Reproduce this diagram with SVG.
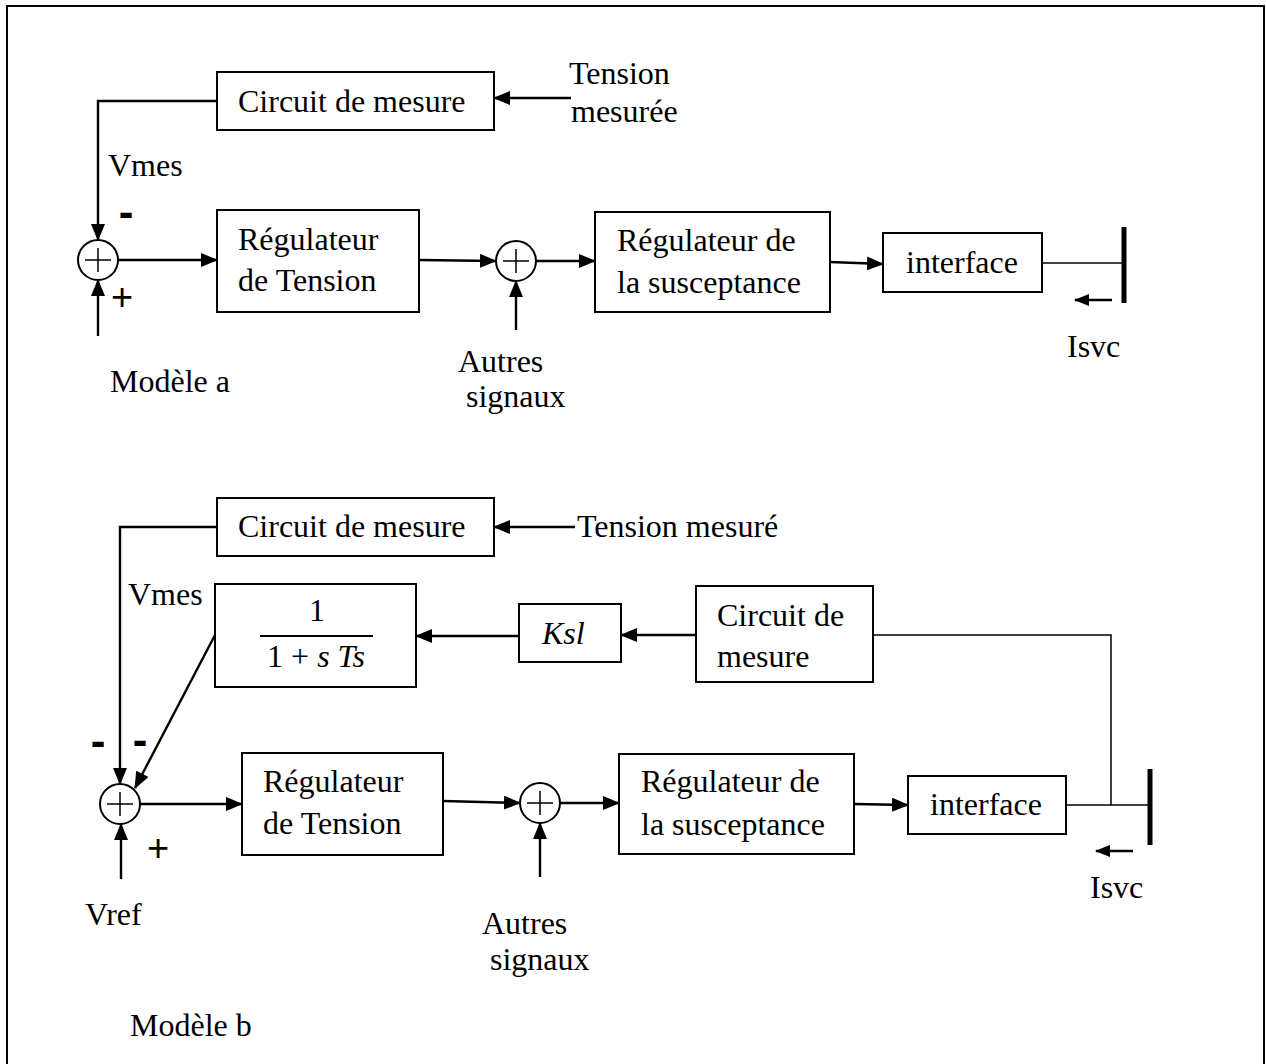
<svg xmlns="http://www.w3.org/2000/svg" width="1266" height="1064" viewBox="0 0 1266 1064">
  <defs>
    <marker id="arrow" markerWidth="17" markerHeight="14" refX="16" refY="7" orient="auto" markerUnits="userSpaceOnUse">
      <path d="M0,0 L17,7 L0,14 z" fill="#000"/>
    </marker>
    <marker id="arrowSmall" markerWidth="15" markerHeight="12" refX="14" refY="6" orient="auto" markerUnits="userSpaceOnUse">
      <path d="M0,0 L15,6 L0,12 z" fill="#000"/>
    </marker>
  </defs>
  <style>
    .box { fill: #fff; stroke: #000; stroke-width: 2; }
    .sum { fill: #fff; stroke: #000; stroke-width: 2; }
    .cross { stroke: #000; stroke-width: 1.5; fill: none; }
    .wire { stroke: #000; stroke-width: 2.4; fill: none; }
    .thin { stroke: #000; stroke-width: 1.5; fill: none; }
    .bus { stroke: #000; stroke-width: 5; fill: none; }
    .lbl { font-family: "Liberation Serif", "Times New Roman", serif; font-size: 32px; fill: #000; }
    .it { font-style: italic; }
    .minus { font-family: "Liberation Sans", Arial, sans-serif; font-size: 44px; font-weight: bold; fill: #000; }
    .plus { font-family: "Liberation Sans", Arial, sans-serif; font-size: 38px; fill: #000; }
  </style>
  <rect width="1266" height="1064" fill="#fff"/>
  <!-- frame -->
  <path d="M7,1072 V6 H1264 V1072" fill="none" stroke="#000" stroke-width="2"/>

  <!-- ===== Model a ===== -->
  <g id="a-mesure">
    <rect class="box" x="217" y="72" width="277" height="58"/>
    <text class="lbl" x="238" y="112">Circuit de mesure</text>
  </g>
  <g id="a-sum1">
    <circle class="sum" cx="98" cy="260" r="20"/>
    <path class="cross" d="M85,260 H111 M98,248 V272"/>
  </g>
  <g id="a-regtension">
    <rect class="box" x="217" y="210" width="202" height="102"/>
    <text class="lbl" x="238" y="250">Régulateur</text>
    <text class="lbl" x="238" y="291">de Tension</text>
  </g>
  <g id="a-sum2">
    <circle class="sum" cx="516" cy="261" r="20"/>
    <path class="cross" d="M503,261 H529 M516,249 V273"/>
  </g>
  <g id="a-regsusc">
    <rect class="box" x="595" y="212" width="235" height="100"/>
    <text class="lbl" x="617" y="251">Régulateur de</text>
    <text class="lbl" x="617" y="293">la susceptance</text>
  </g>
  <g id="a-interface">
    <rect class="box" x="883" y="233" width="159" height="59"/>
    <text class="lbl" x="906" y="273">interface</text>
  </g>
  <g id="a-bus">
    <line class="bus" x1="1124" y1="227" x2="1124" y2="303"/>
  </g>
  <g id="a-labels">
    <text class="lbl" x="569" y="84">Tension</text>
    <text class="lbl" x="571" y="122">mesurée</text>
    <text class="lbl" x="108" y="176">Vmes</text>
    <text class="minus" x="126" y="227" text-anchor="middle">-</text>
    <text class="plus" x="122" y="310" text-anchor="middle">+</text>
    <text class="lbl" x="458" y="372">Autres</text>
    <text class="lbl" x="466" y="407">signaux</text>
    <text class="lbl" x="1067" y="357">Isvc</text>
    <text class="lbl" x="110" y="392">Modèle a</text>
  </g>

  <!-- ===== Model b ===== -->
  <g id="b-mesure">
    <rect class="box" x="217" y="498" width="277" height="58"/>
    <text class="lbl" x="238" y="537">Circuit de mesure</text>
  </g>
  <g id="b-filtre">
    <rect class="box" x="215" y="584" width="201" height="103"/>
    <text class="lbl" x="317" y="621" text-anchor="middle">1</text>
    <line x1="260" y1="636" x2="373" y2="636" stroke="#000" stroke-width="2"/>
    <text class="lbl" x="316" y="667" text-anchor="middle">1 + <tspan class="it">s</tspan> <tspan class="it">Ts</tspan></text>
  </g>
  <g id="b-ksl">
    <rect class="box" x="519" y="604" width="102" height="58"/>
    <text class="lbl it" x="542" y="644">Ksl</text>
  </g>
  <g id="b-mesure2">
    <rect class="box" x="696" y="586" width="177" height="96"/>
    <text class="lbl" x="717" y="626">Circuit de</text>
    <text class="lbl" x="717" y="667">mesure</text>
  </g>
  <g id="b-sum1">
    <circle class="sum" cx="120" cy="804" r="20"/>
    <path class="cross" d="M107,804 H133 M120,792 V816"/>
  </g>
  <g id="b-regtension">
    <rect class="box" x="242" y="753" width="201" height="102"/>
    <text class="lbl" x="263" y="792">Régulateur</text>
    <text class="lbl" x="263" y="834">de Tension</text>
  </g>
  <g id="b-sum2">
    <circle class="sum" cx="540" cy="803" r="20"/>
    <path class="cross" d="M527,803 H553 M540,791 V815"/>
  </g>
  <g id="b-regsusc">
    <rect class="box" x="619" y="754" width="235" height="100"/>
    <text class="lbl" x="641" y="792">Régulateur de</text>
    <text class="lbl" x="641" y="835">la susceptance</text>
  </g>
  <g id="b-interface">
    <rect class="box" x="908" y="776" width="158" height="58"/>
    <text class="lbl" x="930" y="815">interface</text>
  </g>
  <g id="b-bus">
    <line class="bus" x1="1150" y1="769" x2="1150" y2="845"/>
  </g>
  <g id="b-labels">
    <text class="lbl" x="577" y="537">Tension mesuré</text>
    <text class="lbl" x="128" y="605">Vmes</text>
    <text class="minus" x="98" y="756" text-anchor="middle">-</text>
    <text class="minus" x="140" y="755" text-anchor="middle">-</text>
    <text class="plus" x="158" y="861" text-anchor="middle">+</text>
    <text class="lbl" x="85" y="925">Vref</text>
    <text class="lbl" x="482" y="934">Autres</text>
    <text class="lbl" x="490" y="970">signaux</text>
    <text class="lbl" x="1090" y="898">Isvc</text>
    <text class="lbl" x="130" y="1036">Modèle b</text>
  </g>

  <!-- ===== connectors ===== -->
  <g id="connectors">
    <!-- model a -->
    <path class="wire" d="M217,101 H98 V240" marker-end="url(#arrow)"/>
    <path class="wire" d="M571,98 H494" marker-end="url(#arrow)"/>
    <path class="wire" d="M98,336 V280" marker-end="url(#arrow)"/>
    <path class="wire" d="M118,260 H217" marker-end="url(#arrow)"/>
    <path class="wire" d="M419,260 L496,261" marker-end="url(#arrow)"/>
    <path class="wire" d="M536,261 H595" marker-end="url(#arrow)"/>
    <path class="wire" d="M516,330 V281" marker-end="url(#arrow)"/>
    <path class="wire" d="M830,262 L883,264" marker-end="url(#arrow)"/>
    <path class="thin" d="M1042,263 H1124"/>
    <path class="wire" d="M1112,300 H1075" marker-end="url(#arrowSmall)"/>

    <!-- model b -->
    <path class="wire" d="M217,527 H120 V784" marker-end="url(#arrow)"/>
    <path class="wire" d="M575,527 H494" marker-end="url(#arrow)"/>
    <path class="wire" d="M519,636 H416" marker-end="url(#arrow)"/>
    <path class="wire" d="M696,635 H621" marker-end="url(#arrow)"/>
    <path class="thin" d="M873,635 H1111 V805"/>
    <path class="wire" d="M215,635 L135,788" marker-end="url(#arrow)"/>
    <path class="wire" d="M121,879 V824" marker-end="url(#arrow)"/>
    <path class="wire" d="M140,804 H242" marker-end="url(#arrow)"/>
    <path class="wire" d="M443,801 L520,803" marker-end="url(#arrow)"/>
    <path class="wire" d="M560,803 H619" marker-end="url(#arrow)"/>
    <path class="wire" d="M540,877 V823" marker-end="url(#arrow)"/>
    <path class="wire" d="M854,804 L908,805" marker-end="url(#arrow)"/>
    <path class="thin" d="M1066,805 H1150"/>
    <path class="wire" d="M1133,851 H1096" marker-end="url(#arrowSmall)"/>
  </g>
</svg>
